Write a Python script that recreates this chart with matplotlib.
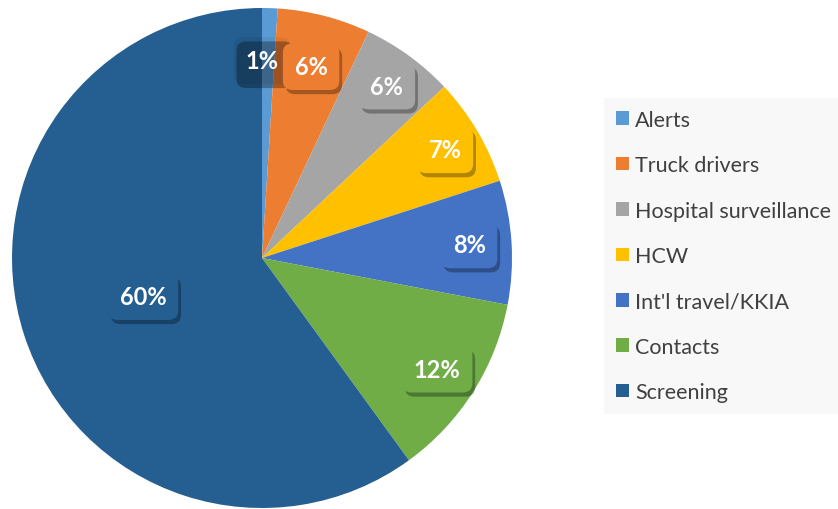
import numpy as np
import matplotlib.pyplot as plt
import matplotlib.patheffects as pe

categories = ['Alerts', 'Truck drivers', 'Hospital surveillance', 'HCW',
              "Int'l travel/KKIA", 'Contacts', 'Screening']
shares = [1, 6, 6, 7, 8, 12, 60]
colors = ['#5B9BD5', '#ED7D31', '#A5A5A5', '#FFC000', '#4472C4', '#70AD47', '#255E91']
label_r = [0.79, 0.79, 0.85, 0.85, 0.83, 0.83, 0.5]

plt.rcParams['font.family'] = ['Lato', 'DejaVu Sans']

fig = plt.figure(figsize=(8.38, 5.10), dpi=100)
ax = fig.add_axes([12 / 838, 1 / 510, 500 / 838, 500 / 510])

wedges, _ = ax.pie(shares, colors=colors, startangle=90, counterclock=False,
                   radius=1, wedgeprops=dict(linewidth=0))
ax.set_xlim(-1, 1)
ax.set_ylim(-1, 1)
ax.set_aspect('equal')

# percentage labels in rounded boxes, coloured like their slice
for i, (w, val, col, r) in enumerate(zip(wedges, shares, colors, label_r)):
    ang = np.deg2rad((w.theta1 + w.theta2) / 2)
    x, y = r * np.cos(ang), r * np.sin(ang)
    if i == 0:
        x = 0.0
        fc = (0, 0, 0, 0.06)   # the tiny slice: box is see-through
    else:
        fc = col
    t = ax.text(x, y, f'{val}%', ha='center', va='center',
                color='white', fontsize=17, fontweight='bold',
                bbox=dict(boxstyle='round,pad=0.5,rounding_size=0.4', fc=fc, ec='none'))
    t.get_bbox_patch().set_path_effects([
        pe.SimplePatchShadow(offset=(2, -3), shadow_rgbFace='black', alpha=0.3),
        pe.Normal()])

leg = fig.legend(wedges, categories, loc='center left',
                 bbox_to_anchor=(604 / 838, (510 - 257) / 510),
                 frameon=True, fancybox=False, fontsize=15.5,
                 handlelength=0.6, handleheight=0.6, handletextpad=0.3,
                 labelspacing=1.18, borderpad=0.55, borderaxespad=0)
leg.get_frame().set_facecolor('#f7f7f7')
leg.get_frame().set_edgecolor('none')
for txt in leg.get_texts():
    txt.set_color('#404040')

fig.savefig('out.png', dpi=100)
